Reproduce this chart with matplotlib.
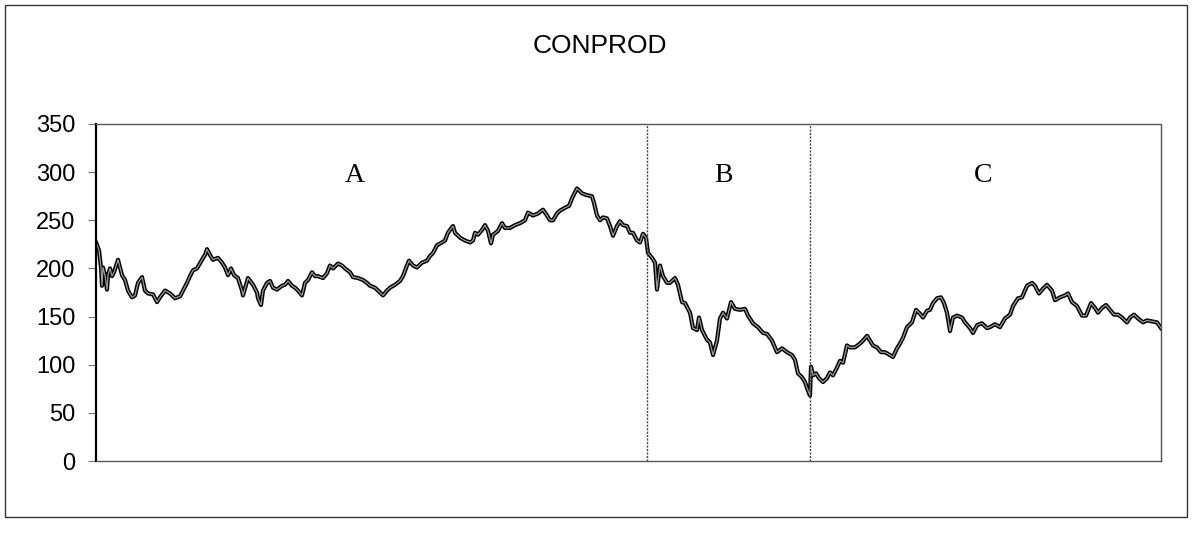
import matplotlib
matplotlib.use('Agg')
import matplotlib.pyplot as plt
from matplotlib.patches import Rectangle

# CONPROD series (t = position along the time axis)
t_a1 = [0, 3, 5, 6, 7, 9, 11, 12, 14, 16, 18, 21, 22, 26, 29, 32, 36, 39, 42, 46,
        49, 52, 57, 61, 64, 69, 74, 79, 84, 87, 91, 94, 97, 101, 106, 109, 111, 114, 117, 122,
        126, 129, 132, 135, 138, 142, 146, 147, 150, 152, 157, 161, 162, 165, 167, 171, 174]
v_a1 = [227, 219, 201, 182, 201, 193, 178, 193, 200, 192, 196, 206, 209, 193, 188, 177, 170, 172, 185, 191,
        177, 174, 173, 165, 170, 177, 174, 169, 171, 177, 185, 192, 198, 200, 209, 214, 220, 214, 209, 211,
        206, 201, 193, 200, 193, 190, 177, 172, 183, 190, 183, 175, 169, 162, 177, 185, 187]

t_a2 = [177, 181, 186, 189, 192, 196, 199, 202, 206, 209, 212, 216, 219, 222, 227, 231, 234, 237, 242, 246,
        249, 254, 257, 262, 267, 271, 274, 279, 282, 287, 291, 294, 299, 304, 307, 311, 313, 317, 321, 326,
        331, 334, 337, 341, 346, 349, 352, 354]
v_a2 = [180, 178, 182, 183, 187, 182, 180, 177, 172, 185, 188, 196, 192, 192, 190, 195, 203, 200, 205, 203,
        200, 196, 191, 190, 188, 185, 182, 180, 177, 172, 177, 180, 183, 187, 192, 203, 208, 203, 201, 206,
        208, 213, 216, 224, 227, 229, 237, 240]

t_a3 = [357, 359, 364, 369, 374, 377, 379, 382, 386, 389, 392, 395, 397, 402, 406, 409, 414, 419, 424, 429,
        432, 437, 442, 447, 451, 454, 457, 461, 464, 469, 473, 477, 481, 486, 491, 496, 498, 501, 504, 507,
        511, 514, 517, 521, 524, 527, 531, 534]
v_a3 = [244, 237, 232, 229, 227, 229, 237, 235, 240, 245, 239, 226, 235, 239, 247, 242, 242, 245, 247, 250,
        258, 255, 257, 261, 255, 250, 250, 257, 260, 263, 265, 275, 283, 278, 276, 275, 268, 255, 250, 253,
        252, 244, 234, 244, 249, 245, 244, 237]

t_b = [537, 541, 544, 547, 550, 552, 556, 559, 561, 564, 567, 571, 574, 579, 582, 586, 589, 594, 597, 601,
       603, 606, 611, 614, 617, 621, 624, 627, 631, 635, 639, 644, 649, 652, 657, 662, 667, 671, 676, 681,
       686, 691, 696, 699, 702, 706, 709, 712]
v_b = [237, 229, 227, 236, 232, 216, 211, 206, 178, 203, 192, 185, 185, 190, 183, 165, 164, 154, 138, 136,
       149, 136, 126, 123, 110, 125, 148, 154, 148, 165, 158, 157, 158, 151, 143, 139, 133, 132, 125, 113,
       117, 113, 110, 105, 91, 87, 82, 73]

t_c1 = [714, 715, 717, 720, 723, 727, 731, 734, 737, 741, 744, 747, 751, 754, 759, 764, 767, 771, 774, 777,
        781, 785, 789, 794, 797, 801, 804, 807, 811, 816, 820, 824, 827, 831, 834, 837, 841, 845, 848, 851,
        854, 857, 861, 866, 869, 874, 877, 881, 886, 891, 894]
v_c1 = [68, 98, 89, 91, 86, 82, 86, 92, 89, 97, 104, 102, 120, 118, 118, 122, 125, 130, 125, 120,
        118, 113, 113, 110, 108, 117, 122, 128, 139, 144, 157, 153, 149, 156, 157, 164, 169, 170, 164, 154,
        135, 149, 151, 149, 144, 138, 133, 141, 143, 138, 139]

t_c2 = [899, 904, 909, 914, 917, 922, 926, 931, 936, 939, 943, 947, 951, 956, 959, 964, 969, 972, 976, 981,
        986, 990, 995, 999, 1002, 1006, 1010, 1014, 1018, 1022, 1026, 1031, 1034, 1038, 1042, 1047, 1051, 1056, 1061, 1065]
v_c2 = [142, 139, 148, 152, 161, 169, 170, 182, 185, 182, 174, 179, 183, 177, 167, 170, 172, 174, 165, 161,
        151, 151, 164, 159, 154, 159, 162, 157, 152, 152, 149, 144, 149, 152, 148, 144, 146, 145, 144, 138]

t = t_a1 + t_a2 + t_a3 + t_b + t_c1 + t_c2
v = v_a1 + v_a2 + v_a3 + v_b + v_c1 + v_c2

# regime boundaries and labels
breaks = [551, 714]
regions = ['A', 'B', 'C']
region_x = [259, 627, 887]
region_y = 297

yticks = [0, 50, 100, 150, 200, 250, 300, 350]

fig = plt.figure(figsize=(11.92, 5.42), dpi=100)
fig.patches.append(Rectangle((5 / 1192, 1 - 517 / 542), 1182 / 1192, 512 / 542,
                             transform=fig.transFigure, fill=False,
                             edgecolor='#333333', linewidth=1.0))
fig.text(0.503, 0.915, 'CONPROD', ha='center', va='center',
         fontsize=19, family='Liberation Sans')

ax = fig.add_axes([96 / 1192, 1 - 461 / 542, 1065 / 1192, 337 / 542])
ax.plot(t, v, color='black', lw=3.0, solid_joinstyle='round')
ax.plot(t, v, color='#9a9a9a', lw=0.9)
for b in breaks:
    ax.axvline(b, color='#444444', lw=1.0, ls=(0, (1.5, 1)))
for lab, xx in zip(regions, region_x):
    ax.text(xx, region_y, lab, ha='center', va='center', fontsize=20,
            family='Liberation Serif')

ax.set_xlim(0, 1065)
ax.set_ylim(0, 350)
ax.set_yticks(yticks)
ax.set_xticks([])
for lbl in ax.get_yticklabels():
    lbl.set_family('Liberation Sans')
ax.tick_params(axis='y', labelsize=17, length=6, width=0.8, color='#777777', pad=9)
for s in ['top', 'right', 'bottom']:
    ax.spines[s].set_color('#555555')
    ax.spines[s].set_linewidth(1.0)
    ax.spines[s].set_linestyle((0, (2, 1)))
ax.spines['left'].set_color('black')
ax.spines['left'].set_linewidth(1.6)

fig.savefig('out.png', dpi=100)
